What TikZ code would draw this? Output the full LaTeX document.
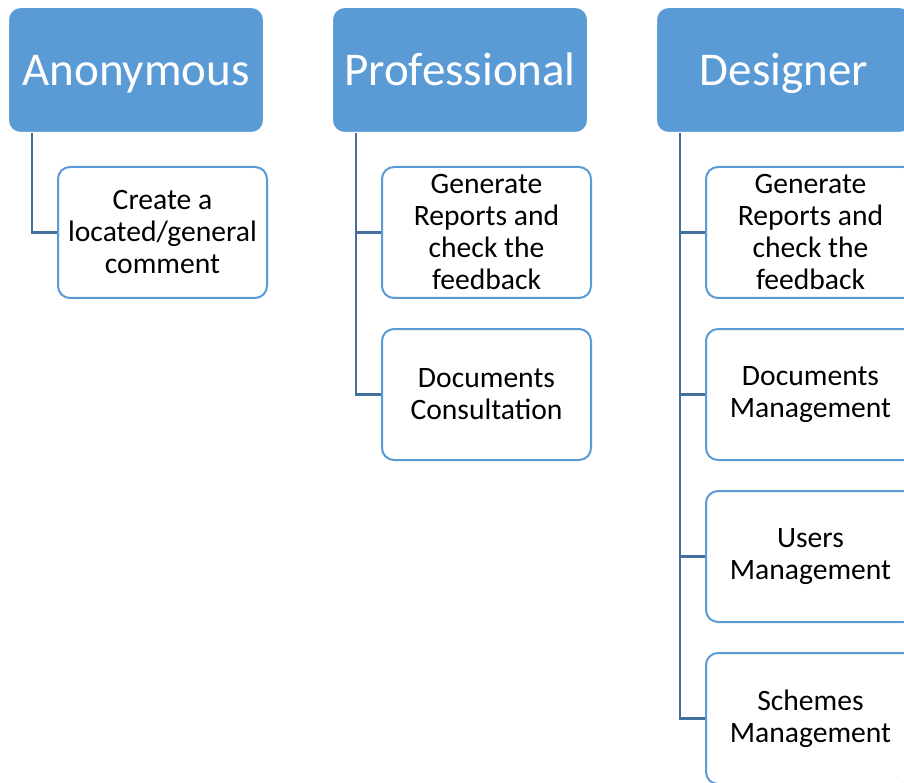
\documentclass[tikz,border=0pt]{standalone}
\usepackage{fontspec}
\setmainfont{Carlito}
\definecolor{hdr}{HTML}{5B9BD5}
\definecolor{conn}{HTML}{41719C}
\begin{document}
\begin{tikzpicture}[x=1pt,y=-1pt,
 header/.style={rectangle, rounded corners=12pt, fill=hdr, draw=white, line width=1pt, minimum width=255pt, minimum height=125pt, anchor=north west, text=white, font=\fontsize{47}{56}\selectfont, inner sep=0pt, text height=36pt, text depth=5pt},
 item/.style={rectangle, rounded corners=12pt, fill=white, draw=hdr, line width=2pt, minimum width=209pt, minimum height=131pt, anchor=north west, align=center, font=\fontsize{29.6}{32}\selectfont, inner sep=0pt},
 link/.style={draw=conn, line width=2.2pt}]
\path[use as bounding box] (0,0) rectangle (904,783);
\clip (0,0) rectangle (904,783);

\node[header] (a) at (8,7) {Anonymous};
\node[header] (p) at (332,7) {Professional};
\node[header] (d) at (656,7) {Designer};

\node[item] (a1) at (57,166) {Create a\\located/general\\comment};

\node[item] (p1) at (381,166) {Generate\\Reports and\\check the\\feedback};
\node[item] (p2) at (381,328) {Documents\\Consultation};

\node[item] (d1) at (705,166) {Generate\\Reports and\\check the\\feedback};
\node[item] (d2) at (705,328) {Documents\\Management};
\node[item] (d3) at (705,490) {Users\\Management};
\node[item] (d4) at (705,652) {Schemes\\Management};

\draw[link] ([xshift=24pt]a.south west) |- (a1.west);
\draw[link] ([xshift=24pt]p.south west) |- (p1.west);
\draw[link] ([xshift=24pt]p.south west) |- (p2.west);
\draw[link] ([xshift=24pt]d.south west) |- (d1.west);
\draw[link] ([xshift=24pt]d.south west) |- (d2.west);
\draw[link] ([xshift=24pt]d.south west) |- (d3.west);
\draw[link] ([xshift=24pt]d.south west) |- (d4.west);
\end{tikzpicture}
\end{document}
